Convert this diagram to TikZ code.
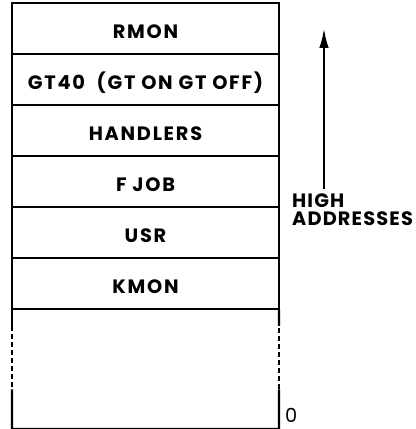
\documentclass[tikz,border=0pt]{standalone}
\usepackage{fontspec}
\setmainfont{Poppins}
\usetikzlibrary{positioning, arrows.meta, calc}

\begin{document}
\begin{tikzpicture}[
    node distance=0pt,
    line width=1.3pt,
    block/.style={
        rectangle,
        draw,
        outer sep=0pt,
        align=center,
        minimum width=5.34cm,
        minimum height=1.02cm,
        text height=0.4cm,
        text depth=0cm,
        font=\fontsize{11}{13}\selectfont\bfseries\addfontfeatures{LetterSpace=9}
    },
    label/.style={
        align=left,
        inner sep=0pt,
        font=\fontsize{11}{9.8}\selectfont\bfseries\addfontfeatures{LetterSpace=6}
    },
    arrow/.style={
        -{Latex[length=4mm,width=1.9mm]},
        line width=1.4pt
    },
    gap/.style={
        dash pattern=on 0.1cm off 0.06cm
    }
]
\useasboundingbox (-0.24,0.06) rectangle (8.06,-8.52);

\node[block, anchor=north west] (rmon) at (0,0)
{RMON};

\node[block, below=of rmon] (gt)
{GT40\hspace{0.6em}(GT ON GT OFF)};

\node[block, below=of gt] (handlers)
{HANDLERS};

\node[block, below=of handlers] (fjob)
{F JOB};

\node[block, below=of fjob] (usr)
{USR};

\node[block, below=of usr] (kmon)
{KMON};

% free area down to address 0
\coordinate[below=2.4cm of kmon.south west] (lowleft);
\coordinate[below=2.4cm of kmon.south east] (lowright);

\draw (kmon.south west) -- ($(kmon.south west)!0.14!(lowleft)$);
\draw[gap] ($(kmon.south west)!0.14!(lowleft)$) -- ($(kmon.south west)!0.67!(lowleft)$);
\draw ($(kmon.south west)!0.67!(lowleft)$) -- (lowleft) -- (lowright)
    -- ($(kmon.south east)!0.67!(lowright)$);
\draw[gap] ($(kmon.south east)!0.67!(lowright)$) -- ($(kmon.south east)!0.14!(lowright)$);
\draw ($(kmon.south east)!0.14!(lowright)$) -- (kmon.south east);

\node[label, font=\fontsize{11}{9.8}\selectfont, anchor=south west] (zero)
    at ($(lowright)+(0.1,0.1)$) {0};

% direction of addresses
\node[label, anchor=north west] (high) at (5.58,-3.8)
{HIGH\\ADDRESSES};
\coordinate (arrowbase) at (6.24,-3.72);
\coordinate (arrowtip) at (6.24,-0.5);

\draw[arrow] (arrowbase) -- (arrowtip);
\end{tikzpicture}
\end{document}
